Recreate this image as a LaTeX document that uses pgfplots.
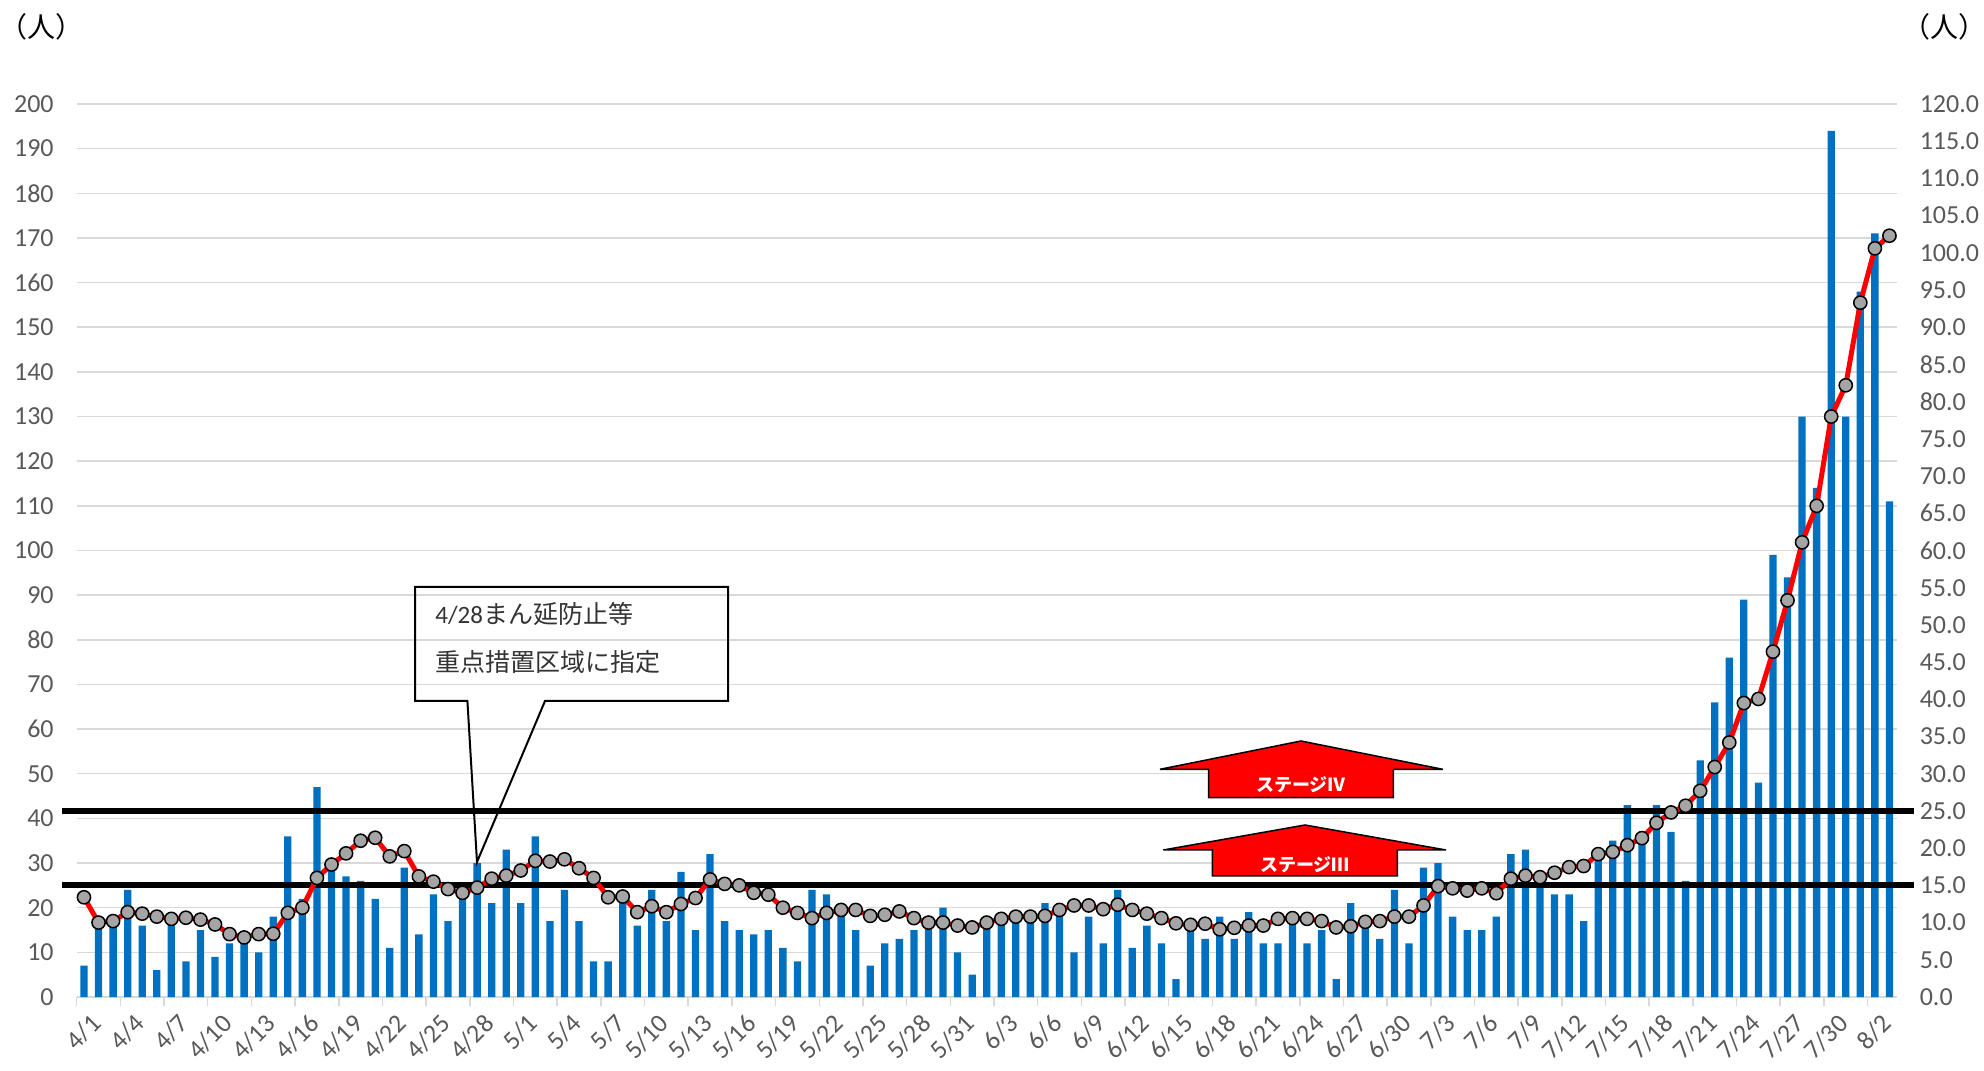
\documentclass[border=0pt]{standalone}
\usepackage{fontspec}
\usepackage{pgfplots}
\usepackage{pgfplotstable}
\pgfplotsset{compat=1.18}
\setmainfont{Carlito}
\newfontfamily\jp{Noto Sans CJK JP}
\definecolor{barblue}{HTML}{0070C0}
\definecolor{gridgray}{HTML}{D9D9D9}
\definecolor{labgray}{HTML}{595959}
\definecolor{mkgray}{HTML}{A5A5A5}

% day, daily cases (left), weekly cases per 100k (right)
\pgfplotstableread{
day cases rate
1 7 13.4
2 16 10.0
3 17 10.2
4 24 11.4
5 16 11.2
6 6 10.8
7 17 10.5
8 8 10.65
9 15 10.4
10 9 9.75
11 12 8.45
12 12 8.0
13 10 8.45
14 18 8.5
15 36 11.3
16 22 12.0
17 47 16.0
18 30 17.8
19 27 19.3
20 26 21.0
21 22 21.4
22 11 18.9
23 29 19.6
24 14 16.2
25 23 15.5
26 17 14.5
27 22 14.0
28 30 14.7
29 21 15.9
30 33 16.3
31 21 17.0
32 36 18.3
33 17 18.2
34 24 18.5
35 17 17.3
36 8 16.0
37 8 13.4
38 23 13.5
39 16 11.4
40 24 12.2
41 17 11.4
42 28 12.5
43 15 13.3
44 32 15.8
45 17 15.2
46 15 15.0
47 14 14.0
48 15 13.75
49 11 12.0
50 8 11.3
51 24 10.6
52 23 11.3
53 20 11.7
54 15 11.7
55 7 10.9
56 12 11.05
57 13 11.5
58 15 10.6
59 16 10.0
60 20 10.0
61 10 9.6
62 5 9.35
63 17 10.0
64 18 10.5
65 18 10.8
66 18 10.8
67 21 10.9
68 20 11.7
69 10 12.3
70 18 12.3
71 12 11.8
72 24 12.4
73 11 11.7
74 16 11.2
75 12 10.6
76 4 9.9
77 16 9.7
78 13 9.85
79 18 9.1
80 13 9.3
81 19 9.6
82 12 9.6
83 12 10.5
84 17 10.6
85 12 10.5
86 15 10.2
87 4 9.35
88 21 9.5
89 16 10.1
90 13 10.2
91 24 10.8
92 12 10.8
93 29 12.3
94 30 14.9
95 18 14.6
96 15 14.3
97 15 14.6
98 18 13.95
99 32 15.9
100 33 16.3
101 27 16.1
102 23 16.7
103 23 17.45
104 17 17.6
105 33 19.2
106 35 19.5
107 43 20.4
108 36 21.35
109 43 23.4
110 37 24.8
111 26 25.7
112 53 27.7
113 66 30.9
114 76 34.2
115 89 39.5
116 48 40.05
117 99 46.4
118 94 53.3
119 130 61.1
120 114 66.0
121 194 78.0
122 130 82.2
123 158 93.3
124 171 100.6
125 111 102.3
}\data

\pgfplotsset{
  common/.style={
    at={(38.35pt,36.5pt)}, anchor=south west,
    scale only axis, width=910pt, height=446.5pt,
    xmin=0.5, xmax=125.5, ymin=0,
    axis line style={draw=none},
    major tick length=0pt,
    ticklabel style={font=\fontsize{13}{15}\selectfont, text=labgray},
    /pgf/number format/assume math mode=true,
  }
}

\begin{document}
\begin{tikzpicture}[x=1pt,y=1pt]
\useasboundingbox (0,0) rectangle (992,535);
\begin{axis}[common,
  ybar, bar width=3.65pt,
  ymax=200, ytick={0,10,...,200},
  ymajorgrids, grid style={draw=gridgray, line width=0.75pt},
  ytick pos=left, xtick pos=bottom,
  yticklabel style={xshift=-8pt},
  xtick={1,4,...,124},
  xticklabels={4/1,4/4,4/7,4/10,4/13,4/16,4/19,4/22,4/25,4/28,5/1,5/4,5/7,5/10,5/13,5/16,5/19,5/22,5/25,5/28,5/31,6/3,6/6,6/9,6/12,6/15,6/18,6/21,6/24,6/27,6/30,7/3,7/6,7/9,7/12,7/15,7/18,7/21,7/24,7/27,7/30,8/2},
  xticklabel style={rotate=45, anchor=north east, yshift=-4pt},
  minor xtick={0.5,3.5,...,123.5},
  minor tick length=4.5pt, tick align=outside,
  minor x tick style={draw=gridgray, line width=0.75pt},
  clip=false,
]
\addplot[fill=barblue, draw=none] table[x=day,y=cases]{\data};
\draw[line width=3pt] (axis cs:-0.5,25) -- (axis cs:126.7,25);
\draw[line width=3pt] (axis cs:-0.5,41.667) -- (axis cs:126.7,41.667);
\end{axis}
\begin{axis}[common,
  ymax=120, ytick={0,5,...,120},
  hide x axis, ytick pos=right, yticklabel pos=right,
  yticklabel style={anchor=west, xshift=8pt, /pgf/number format/.cd, fixed, fixed zerofill, precision=1},
]
\addplot[red, line width=2.5pt, mark=*, mark size=3.3pt,
  mark options={fill=mkgray, draw=black, line width=0.75pt}] table[x=day,y=rate]{\data};
\end{axis}

% callout
\draw[line width=1pt] (207.5,241.5) -- (364,241.5) -- (364,184.5) -- (272.5,184.5)
  -- (238.5,104) -- (233.7,184.5) -- (207.5,184.5) -- cycle;
\node[anchor=west, inner sep=0pt, text=black!80] at (217.5,228)
  {\fontsize{12.5}{14}\selectfont 4/28{\jp まん延防止等}};
\node[anchor=west, inner sep=0pt, text=black!80] at (217.5,204)
  {\fontsize{12.5}{14}\selectfont\jp 重点措置区域に指定};

% stage arrows
\draw[fill=red, line width=0.75pt] (580,150.35) -- (650.5,164.5) -- (721.35,150.35)
  -- (696.65,150.35) -- (696.65,136.15) -- (604.35,136.15) -- (604.35,150.35) -- cycle;
\node[text=white, inner sep=0pt] at (650.5,142.5) {\fontsize{9}{10}\selectfont\jp\bfseries ステージⅣ};
\draw[fill=red, line width=0.75pt] (581.65,110) -- (652.5,122.5) -- (723,110)
  -- (698.65,110) -- (698.65,97) -- (606.15,97) -- (606.15,110) -- cycle;
\node[text=white, inner sep=0pt] at (652.5,102.5) {\fontsize{9}{10}\selectfont\jp\bfseries ステージⅢ};

% unit labels
\node at (20.5,521.5) {\fontsize{14}{16}\selectfont\jp （人）};
\node at (972,521.5) {\fontsize{14}{16}\selectfont\jp （人）};
\end{tikzpicture}
\end{document}
